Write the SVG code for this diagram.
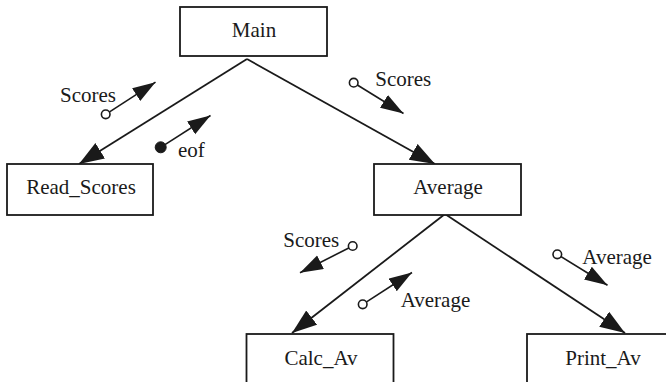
<svg xmlns="http://www.w3.org/2000/svg" width="666" height="382" viewBox="0 0 666 382">
  <style>
    .box { fill: #ffffff; stroke: #1a1a1a; stroke-width: 1.8; }
    text { font-family: "Liberation Serif", "DejaVu Serif", serif; font-size: 21px; fill: #1a1a1a; }
    .mid { text-anchor: middle; }
    .conn { stroke: #1a1a1a; stroke-width: 1.8; fill: none; }
    .flow { stroke: #1a1a1a; stroke-width: 1.6; fill: none; }
    .data { fill: #ffffff; stroke: #1a1a1a; stroke-width: 1.6; }
    .ctrl { fill: #1a1a1a; stroke: #1a1a1a; stroke-width: 1; }
  </style>
  <defs>
    <marker id="bigArrow" markerUnits="userSpaceOnUse" markerWidth="28" markerHeight="20" refX="25" refY="9" orient="auto">
      <path d="M0,0 L25,9 L0,18 Z" fill="#1a1a1a"/>
    </marker>
    <marker id="smallArrow" markerUnits="userSpaceOnUse" markerWidth="26" markerHeight="18" refX="23" refY="7.5" orient="auto">
      <path d="M0,0 L23,7.5 L0,15 Z" fill="#1a1a1a"/>
    </marker>
  </defs>

  <g id="connectors">
    <line class="conn" x1="247" y1="59" x2="79" y2="164" marker-end="url(#bigArrow)"/>
    <line class="conn" x1="247" y1="59" x2="435" y2="164" marker-end="url(#bigArrow)"/>
    <line class="conn" x1="445" y1="214" x2="292" y2="333" marker-end="url(#bigArrow)"/>
    <line class="conn" x1="445" y1="214" x2="625" y2="333" marker-end="url(#bigArrow)"/>
  </g>

  <g id="couples">
    <g id="couple-scores-up">
      <line class="flow" x1="105.7" y1="114.3" x2="155.5" y2="82.2" marker-end="url(#smallArrow)"/>
      <circle class="data" cx="105.7" cy="114.3" r="4.3"/>
      <text x="60" y="101.7">Scores</text>
    </g>
    <g id="couple-eof">
      <line class="flow" x1="160.7" y1="147.3" x2="210.5" y2="115.5" marker-end="url(#smallArrow)"/>
      <circle class="ctrl" cx="160.7" cy="147.3" r="5.5"/>
      <text x="178" y="156.7">eof</text>
    </g>
    <g id="couple-scores-down">
      <line class="flow" x1="353.7" y1="82.7" x2="403.5" y2="113.5" marker-end="url(#smallArrow)"/>
      <circle class="data" cx="353.7" cy="82.7" r="4.3"/>
      <text x="375.3" y="86">Scores</text>
    </g>
    <g id="couple-scores-calc">
      <line class="flow" x1="352.7" y1="246" x2="300" y2="272.7" marker-end="url(#smallArrow)"/>
      <circle class="data" cx="352.7" cy="246" r="4.3"/>
      <text x="283.3" y="247.3">Scores</text>
    </g>
    <g id="couple-average-calc">
      <line class="flow" x1="362.7" y1="304.3" x2="412" y2="272.5" marker-end="url(#smallArrow)"/>
      <circle class="data" cx="362.7" cy="304.3" r="4.3"/>
      <text x="400.7" y="306.7">Average</text>
    </g>
    <g id="couple-average-print">
      <line class="flow" x1="557.3" y1="254.3" x2="607.5" y2="285.2" marker-end="url(#smallArrow)"/>
      <circle class="data" cx="557.3" cy="254.3" r="4.3"/>
      <text x="582.3" y="264.3">Average</text>
    </g>
  </g>

  <g id="node-main">
    <rect class="box" x="180" y="7" width="147" height="49"/>
    <text class="mid" x="254" y="37.3">Main</text>
  </g>
  <g id="node-read-scores">
    <rect class="box" x="7" y="164" width="146" height="51"/>
    <text class="mid" x="81" y="194.3">Read_Scores</text>
  </g>
  <g id="node-average">
    <rect class="box" x="374" y="164" width="147" height="51"/>
    <text class="mid" x="448" y="194.3">Average</text>
  </g>
  <g id="node-calc-av">
    <rect class="box" x="246.5" y="334" width="147" height="60"/>
    <text class="mid" x="321" y="365">Calc_Av</text>
  </g>
  <g id="node-print-av">
    <rect class="box" x="527" y="334" width="147" height="60"/>
    <text class="mid" x="603" y="365">Print_Av</text>
  </g>
</svg>
